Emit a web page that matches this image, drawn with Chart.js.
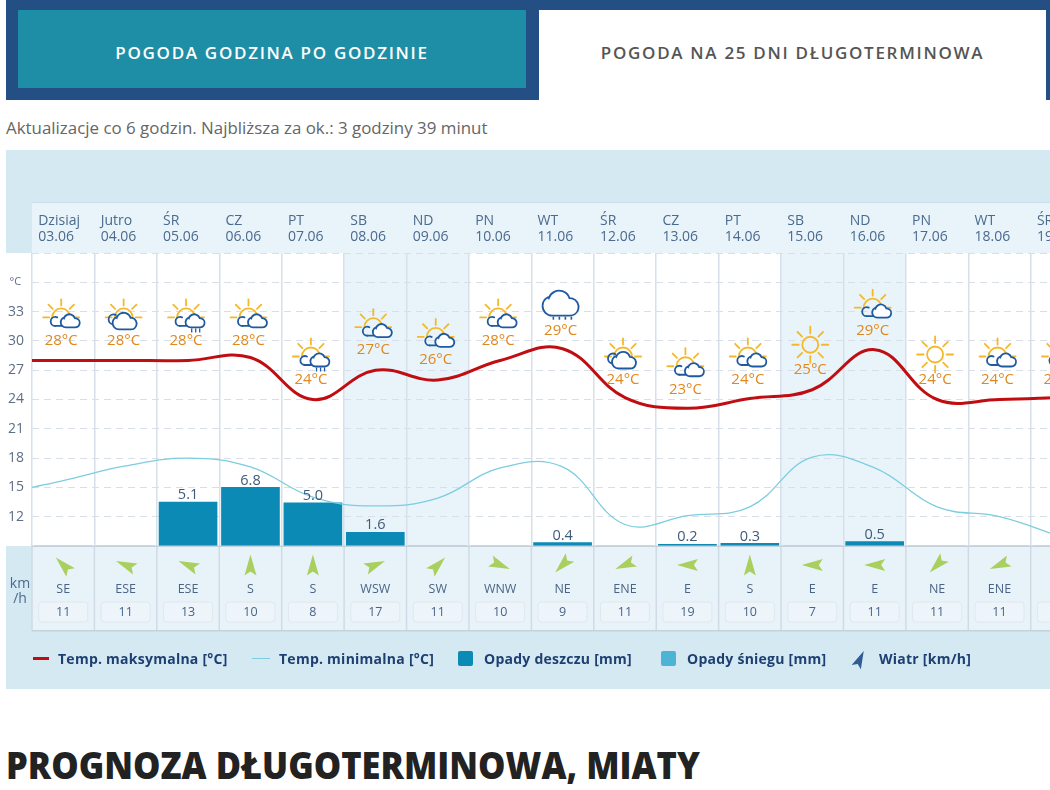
<!DOCTYPE html>
<html lang="pl">
<head>
<meta charset="utf-8">
<title>Prognoza długoterminowa, Miaty</title>
<script src="https://cdn.jsdelivr.net/npm/chart.js@4"></script>
<style>
    html, body { margin: 0; padding: 0; width: 1050px; height: 790px; overflow: hidden; background: #fff; font-family: "Open Sans", sans-serif; }
    .abs { position: absolute; white-space: nowrap; }
    .tabs-bg { left: 6px; top: 0; width: 533px; height: 100px; background: #234f85; }
    .tabs-top { left: 6px; top: 0; width: 1044px; height: 10px; background: #234f85; }
    .tabs-right { left: 1046px; top: 0; width: 4px; height: 100px; background: #234f85; }
    .tab-active { left: 18px; top: 10px; width: 508px; height: 84px; background: linear-gradient(#1e8ea6 78px, transparent 78px); color: #fff; }
    .tab-other { left: 539px; top: 10px; width: 507px; height: 84px; color: #555; }
    .tab-active, .tab-other { display: flex; align-items: center; justify-content: center; font-size: 17px; font-weight: 600; letter-spacing: 1.7px; }
    .update { left: 6px; top: 116px; font-size: 16.9px; color: #666; }
    .panel { left: 6px; top: 150px; width: 1044px; height: 539px; background: #d5e9f2; overflow: hidden; }
    #chart { display: block; }
    .legend-item { top: 649px; font-size: 14px; font-weight: 700; color: #1e3f72; line-height: 19px; letter-spacing: 0.25px; }
    .legend-mark { position: absolute; }
    h1 { position: absolute; left: 6px; top: 741px; margin: 0; font-size: 37px; font-weight: 800; color: #222; white-space: nowrap; line-height: 48px; transform: scaleX(0.933); transform-origin: left center; }
</style>
</head>
<body>
<div class="abs tabs-top"></div>
<div class="abs tabs-bg"></div>
<div class="abs tabs-right"></div>
<div class="abs tab-active">POGODA GODZINA PO GODZINIE</div>
<div class="abs tab-other">POGODA NA 25 DNI DŁUGOTERMINOWA</div>
<div class="abs update">Aktualizacje co 6 godzin. Najbliższa za ok.: 3 godziny 39 minut</div>
<div class="abs panel"><canvas id="chart" width="1100" height="539"></canvas></div>
<div id="legend"></div>
<h1>PROGNOZA DŁUGOTERMINOWA, MIATY</h1>

<script>
const dayNames = ['Dzisiaj', 'Jutro', 'ŚR', 'CZ', 'PT', 'SB', 'ND', 'PN', 'WT', 'ŚR', 'CZ', 'PT', 'SB', 'ND', 'PN', 'WT', 'ŚR'];
const dayDates = ['03.06', '04.06', '05.06', '06.06', '07.06', '08.06', '09.06', '10.06', '11.06', '12.06', '13.06', '14.06', '15.06', '16.06', '17.06', '18.06', '19.06'];
const weekendDays = ['SB', 'ND'];

// labelled daily maximum
const tempLabels = [28, 28, 28, 28, 24, 27, 26, 28, 29, 24, 23, 24, 25, 29, 24, 24, 24];
const weatherIcons = ['partly', 'cloudy', 'storm', 'partly', 'storm', 'partly', 'partly', 'partly', 'rain', 'cloudy', 'partly', 'partly', 'sun', 'partly', 'sun', 'partly', 'partly'];

// first value of both lines is the left edge of the plot, the rest are day centres
const maxTemp = [28, 28, 28, 28, 28.3, 24, 27, 26, 28, 29.2, 24.2, 23.1, 24.1, 25, 29.1, 24, 24, 24.2];
const minTemp = [15, 15.7, 17.2, 18, 17.1, 14, 13.1, 13.9, 17, 17.1, 11.2, 12.1, 13, 18.1, 17, 13, 12, 9.9];

const rain = [0, 0, 5.1, 6.8, 5.0, 1.6, 0, 0, 0.4, 0, 0.2, 0.3, 0, 0.5, 0, 0, 0];
const snow = [];

const windDirs = ['SE', 'ESE', 'ESE', 'S', 'S', 'WSW', 'SW', 'WNW', 'NE', 'ENE', 'E', 'S', 'E', 'E', 'NE', 'ENE', 'E'];
const windSpeeds = [11, 11, 13, 10, 8, 17, 11, 10, 9, 11, 19, 10, 7, 11, 11, 11, 10];
const compass = { N: 0, NE: 45, ENE: 67.5, E: 90, SE: 135, ESE: 112.5, S: 180, SW: 225, WSW: 247.5, WNW: 292.5 };

const tempTicks = { min: 9, max: 39, step: 3 };
const rainMax = 34;

const legendItems = [
    { label: 'Temp. maksymalna [°C]', mark: 'left:33px;top:657px;width:16px;height:3px;background:#c00d12', text: 58 },
    { label: 'Temp. minimalna [°C]', mark: 'left:252px;top:658px;width:18px;height:1px;background:#7ccde0', text: 279 },
    { label: 'Opady deszczu [mm]', mark: 'left:458px;top:651px;width:15px;height:15px;background:#0a8ab5;border-radius:2px', text: 484 },
    { label: 'Opady śniegu [mm]', mark: 'left:661px;top:651px;width:15px;height:15px;background:#4db4d4;border-radius:2px', text: 687 },
    { label: 'Wiatr [km/h]', mark: '', text: 879 },
];

const lineX = maxTemp.map((v, i) => (i === 0 ? 0 : i - 0.5));
const toPoints = (values) => values.map((v, i) => ({ x: lineX[i], y: v }));

const drawRay = (ctx, x, y, angle, r1, r2) => {
    ctx.beginPath();
    ctx.moveTo(x + Math.cos(angle) * r1, y + Math.sin(angle) * r1);
    ctx.lineTo(x + Math.cos(angle) * r2, y + Math.sin(angle) * r2);
    ctx.stroke();
};

const drawHalfSun = (ctx, x, y) => {
    ctx.strokeStyle = '#f4b92a';
    ctx.lineWidth = 1.8;
    ctx.beginPath();
    ctx.arc(x, y, 9, Math.PI, 2 * Math.PI);
    ctx.stroke();
    [-180, -135, -90, -45, 0].forEach((deg) => drawRay(ctx, x, y, deg * Math.PI / 180, 12, 18));
};

const drawFullSun = (ctx, x, y) => {
    ctx.strokeStyle = '#f4b92a';
    ctx.lineWidth = 1.8;
    ctx.beginPath();
    ctx.arc(x, y, 8, 0, 2 * Math.PI);
    ctx.stroke();
    for (let deg = 0; deg < 360; deg += 45) {
        drawRay(ctx, x, y, deg * Math.PI / 180, 11.5, 18);
    }
};

// outline cloud, (x,y) is the middle of its flat bottom
const drawCloud = (ctx, x, y, w) => {
    const r = w * 0.27;
    ctx.beginPath();
    ctx.moveTo(x - w / 2 + r, y);
    ctx.arc(x - w / 2 + r, y - r, r, Math.PI / 2, Math.PI * 1.35);
    ctx.arc(x - w * 0.04, y - r * 1.45, r * 1.12, Math.PI * 1.1, Math.PI * 1.9);
    ctx.arc(x + w / 2 - r * 0.9, y - r * 0.9, r * 0.9, -Math.PI / 2.4, Math.PI / 2);
    ctx.closePath();
    ctx.fillStyle = '#fff';
    ctx.fill();
    ctx.strokeStyle = '#1f5aa0';
    ctx.lineWidth = 1.8;
    ctx.stroke();
};

const drawSmallCloud = (ctx, x, y, r) => {
    ctx.strokeStyle = '#1f5aa0';
    ctx.lineWidth = 1.8;
    ctx.beginPath();
    ctx.arc(x, y, r, Math.PI * 0.5, Math.PI * 1.65);
    ctx.stroke();
    ctx.beginPath();
    ctx.moveTo(x, y + r);
    ctx.lineTo(x + 6, y + r);
    ctx.stroke();
};

const drawIcon = (ctx, type, x, y) => {
    ctx.save();
    ctx.lineCap = 'round';
    if (type === 'sun') {
        drawFullSun(ctx, x, y - 1);
    } else if (type === 'rain') {
        drawCloud(ctx, x, y + 9, 36);
        ctx.fillStyle = '#1f5aa0';
        [-8, -2, 4, 10].forEach((dx) => ctx.fillRect(x + dx, y + 10, 1.6, 3));
    } else {
        drawHalfSun(ctx, x, y + 1);
        if (type === 'cloudy') {
            drawSmallCloud(ctx, x - 10, y + 3, 5);
            drawCloud(ctx, x + 1, y + 13, 24);
        } else {
            drawSmallCloud(ctx, x - 6, y + 5, 4.5);
            drawCloud(ctx, x + 9, y + 11, 19);
        }
        if (type === 'storm') {
            ctx.fillStyle = '#1f5aa0';
            [5, 9, 13].forEach((dx) => ctx.fillRect(x + dx, y + 12, 1.3, 4));
        }
    }
    ctx.restore();
};

const drawDart = (ctx, x, y, bearing, color, size = 1) => {
    ctx.save();
    ctx.translate(x, y);
    ctx.rotate((bearing + 180) * Math.PI / 180);
    ctx.scale(size, size);
    ctx.beginPath();
    ctx.moveTo(0, -10.5);
    ctx.lineTo(6, 10.5);
    ctx.lineTo(0, 6.5);
    ctx.lineTo(-6, 10.5);
    ctx.closePath();
    ctx.fillStyle = color;
    ctx.fill();
    ctx.restore();
};

const forecastPanels = {
    id: 'forecastPanels',
    beforeDraw(chart) {
        const { ctx, chartArea: area, scales: { x } } = chart;
        const colW = x.width / dayNames.length;
        ctx.save();
        // header strip, white plot, wind strip
        ctx.fillStyle = '#e8f4fa';
        ctx.fillRect(area.left, 52, area.width, area.top - 52);
        ctx.fillStyle = '#c9deea';
        ctx.fillRect(area.left, 52, area.width, 1);
        ctx.fillStyle = '#fff';
        ctx.fillRect(0, area.top, area.right, area.height);
        ctx.fillStyle = '#e8f3f9';
        ctx.fillRect(area.left, area.bottom, area.width, 85);
        dayNames.forEach((name, i) => {
            if (weekendDays.includes(name)) {
                ctx.fillStyle = '#e8f4fa';
                ctx.fillRect(x.getPixelForValue(i) - colW / 2, area.top, colW, area.height);
            }
        });
        ctx.restore();
    },
    afterDatasetsDraw(chart) {
        const { ctx, scales: { x, y, yRain } } = chart;
        ctx.save();
        ctx.textAlign = 'center';
        ctx.textBaseline = 'middle';
        rain.forEach((v, i) => {
            if (v > 0) {
                ctx.font = '14.5px "Open Sans"';
                ctx.fillStyle = '#3f5a78';
                ctx.fillText(v.toFixed(1), x.getPixelForValue(i), yRain.getPixelForValue(v) - 7);
            }
        });
        tempLabels.forEach((v, i) => {
            const cx = x.getPixelForValue(i) - 2;
            const cy = y.getPixelForValue(v) - 20;
            drawIcon(ctx, weatherIcons[i], cx, cy - 24);
            ctx.font = '15px "Open Sans"';
            ctx.fillStyle = '#e0881c';
            ctx.fillText(v + '°C', cx, cy);
        });
        ctx.restore();
    },
    afterDraw(chart) {
        const { ctx, chartArea: area, scales: { x } } = chart;
        const colW = x.width / dayNames.length;
        ctx.save();
        ctx.textAlign = 'center';
        ctx.textBaseline = 'middle';
        windDirs.forEach((dir, i) => {
            const cx = x.getPixelForValue(i);
            drawDart(ctx, cx, area.bottom + 19, compass[dir], '#a9cf5f');
            ctx.fillStyle = '#d0dae4';
            ctx.fillRect(cx - colW / 2 - 0.75, area.bottom, 1.5, 85);
            ctx.font = '12.5px "Open Sans"';
            ctx.fillStyle = '#4a6485';
            ctx.fillText(dir, cx, area.bottom + 43);
            ctx.beginPath();
            ctx.roundRect(cx - 24.5, area.bottom + 56, 49, 20, 3);
            ctx.fillStyle = '#edf5fa';
            ctx.fill();
            ctx.strokeStyle = '#dfe8ee';
            ctx.lineWidth = 1;
            ctx.stroke();
            ctx.fillStyle = '#4a6485';
            ctx.fillText(windSpeeds[i], cx, area.bottom + 66);
        });
        ctx.fillStyle = '#c5d1dd';
        ctx.fillRect(area.left, area.bottom - 0.5, area.width, 1.5);
        ctx.fillRect(area.left, area.bottom + 84, area.width, 1.5);
        ctx.font = '14px "Open Sans"';
        ctx.fillStyle = '#4a6a8e';
        ctx.fillText('km', 14, area.bottom + 38);
        ctx.fillText('/h', 14, area.bottom + 53);
        ctx.restore();
    },
};

const chart = new Chart(document.getElementById('chart'), {
    type: 'bar',
    data: {
        labels: dayNames.map((name, i) => [name, dayDates[i]]),
        datasets: [
            {
                type: 'line',
                label: 'Temp. maksymalna [°C]',
                data: toPoints(maxTemp),
                xAxisID: 'xLine',
                yAxisID: 'y',
                borderColor: '#c00d12',
                borderWidth: 3,
                pointRadius: 0,
                tension: 0.4,
                order: 1,
            },
            {
                type: 'line',
                label: 'Temp. minimalna [°C]',
                data: toPoints(minTemp),
                xAxisID: 'xLine',
                yAxisID: 'y',
                borderColor: '#7ccde0',
                borderWidth: 1.3,
                pointRadius: 0,
                tension: 0.4,
                order: 2,
            },
            {
                label: 'Opady deszczu [mm]',
                data: rain,
                yAxisID: 'yRain',
                backgroundColor: '#0a8ab5',
                barThickness: 58,
                grouped: false,
                order: 3,
            },
            {
                label: 'Opady śniegu [mm]',
                data: snow,
                yAxisID: 'yRain',
                backgroundColor: '#4db4d4',
                grouped: false,
                order: 4,
            },
        ],
    },
    options: {
        responsive: false,
        animation: false,
        layout: { padding: { right: 12.4, bottom: 143 } },
        plugins: { legend: { display: false }, tooltip: { enabled: false } },
        scales: {
            x: {
                position: 'top',
                afterFit: (scale) => { scale.height = 103; },
                grid: { color: '#d6e0ea', lineWidth: 1.5, drawTicks: false },
                border: { display: false },
                ticks: {
                    align: 'start',
                    labelOffset: -25,
                    padding: 8,
                    maxRotation: 0,
                    autoSkip: false,
                    color: '#4a6a8e',
                    font: { family: '"Open Sans"', size: 14, lineHeight: 1.15 },
                },
            },
            xLine: { type: 'linear', display: false, offset: false, min: 0, max: dayNames.length },
            y: {
                min: tempTicks.min,
                max: tempTicks.max,
                afterFit: (scale) => { scale.width = 26; },
                grid: { color: '#d9dfe8', drawTicks: false },
                border: { display: false, dash: [7, 5] },
                ticks: {
                    stepSize: tempTicks.step,
                    padding: 8,
                    color: '#5d6e85',
                    font: (ctx) => ({ family: '"Open Sans"', size: ctx.tick && ctx.tick.value === 36 ? 11 : 14 }),
                    callback: (v) => {
                        if (v === 39 || v === 9) return '';
                        return v === 36 ? '°C ' : v;
                    },
                },
            },
            yRain: { display: false, min: 0, max: rainMax },
        },
    },
    plugins: [forecastPanels],
});

// legend built from the same labels
const legendEl = document.getElementById('legend');
legendItems.forEach((item) => {
    if (item.mark) {
        const mark = document.createElement('div');
        mark.className = 'legend-mark';
        mark.style.cssText = item.mark;
        legendEl.appendChild(mark);
    }
    const text = document.createElement('div');
    text.className = 'abs legend-item';
    text.style.left = item.text + 'px';
    text.textContent = item.label;
    legendEl.appendChild(text);
});
const windMark = document.createElement('canvas');
windMark.width = 20;
windMark.height = 24;
windMark.style.cssText = 'position:absolute;left:850px;top:647px';
legendEl.appendChild(windMark);
drawDart(windMark.getContext('2d'), 10, 12, 205, '#2f5c94', 0.85);
</script>
</body>
</html>
